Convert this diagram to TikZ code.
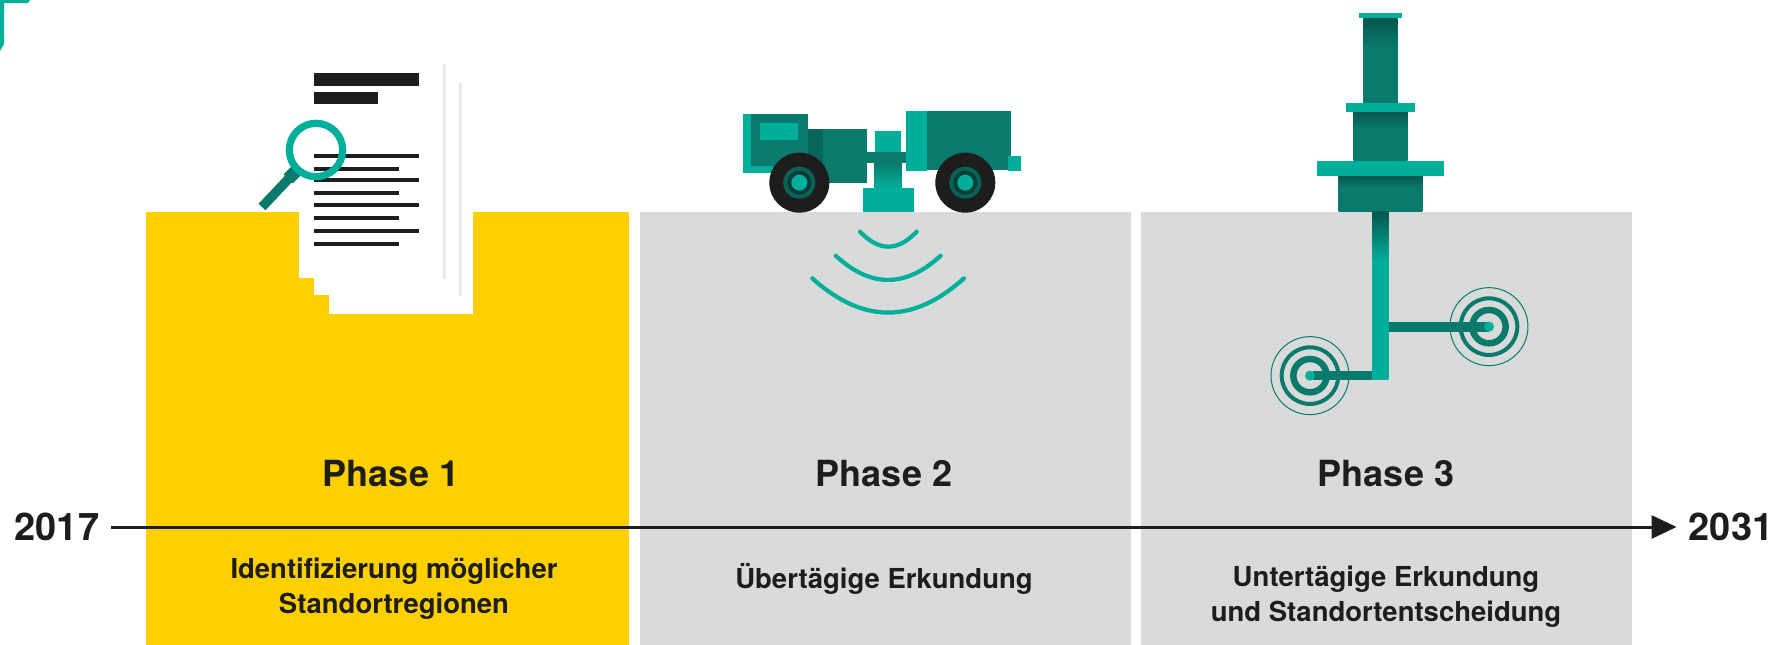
\documentclass[tikz,border=0pt]{standalone}
\usepackage{fontspec}
\usepackage{amsmath,tikz}
\usetikzlibrary{arrows.meta}
\setmainfont{TeX Gyre Heros}

\definecolor{tealL}{HTML}{00AF9B}
\definecolor{tealD}{HTML}{0A7A6C}
\definecolor{tealX}{HTML}{05574D}
\definecolor{panelY}{HTML}{FFD000}
\definecolor{panelG}{HTML}{D9DBDA}
\definecolor{inkK}{HTML}{1D1D1B}
\definecolor{pageS}{HTML}{E4E4E6}

\pgfdeclareverticalshading{pipefade}{100bp}{color(0bp)=(tealL); color(60bp)=(tealL); color(75bp)=(tealX); color(100bp)=(tealX)}
\pgfdeclareverticalshading{shaftfade}{100bp}{color(0bp)=(tealD); color(58bp)=(tealD); color(75bp)=(tealX); color(100bp)=(tealX)}

\tikzset{
  phaselab/.style={font=\fontsize{36pt}{40pt}\selectfont\bfseries,text=inkK,inner sep=0pt},
  tasklab/.style={font=\fontsize{27.5pt}{35pt}\selectfont\bfseries,text=inkK,align=center,inner sep=0pt},
  yearlab/.style={font=\fontsize{38pt}{42pt}\selectfont\bfseries,text=inkK,inner sep=0pt,inner xsep=12pt},
  wave/.style={draw=tealL,line width=4.2pt,line cap=round},
  timeline/.style={draw=inkK,line width=3pt,-{Stealth[length=25pt,width=23pt,inset=0pt]}}
}

\begin{document}
\begin{tikzpicture}[x=1pt,y=-1pt]
\useasboundingbox (0,0) rectangle (1778,645);

% corner mark
\fill[tealL] (0,0) -- (30,0) -- (28,3) -- (4,3) -- (4,44) -- (0,51) -- cycle;

% panels
\fill[panelY] (146,212) rectangle (629,645);
\fill[panelG] (640,212) rectangle (1131,645);
\fill[panelG] (1141,212) rectangle (1632,645);

% sheets of paper
\fill[white] (329,212) rectangle (473,314);
\shade[left color=pageS,right color=white] (459,83) rectangle (463,295);
\fill[white] (314,83) rectangle (459,295);
\shade[left color=pageS,right color=white] (443,64) rectangle (447,278);
\fill[white] (299,64) rectangle (443,278);
\fill[inkK] (314,73) rectangle (419,86);
\fill[inkK] (314,92) rectangle (378,104);
\foreach \y/\e in {156/419,169/399,180/419,193/399,205/419,218/399,231/419,244/399}
{
\fill[inkK] (314,\y-2) rectangle (\e,\y+2);
}

% magnifier
\draw[tealD,line width=9.5pt] (295,172) -- (262,207);
\draw[tealD,line width=13pt] (297,170) -- (288,179);
\draw[tealL,line width=7.2pt] (316,150) circle [radius=26.7];

% truck and waves
\begin{scope}[shift={(720,90)},x=0.3333pt,y=-0.3333pt]
\fill[tealL] (70,72) rectangle (265,248);
\fill[tealD] (92,72) rectangle (265,228);
\fill[tealD] (160,228) rectangle (310,280);
\fill[tealX!60!tealD] (265,118) rectangle (310,280);
\fill[tealD] (310,118) rectangle (440,280);
\fill[tealL] (120,98) rectangle (235,150);
\fill[tealL] (464,122) rectangle (544,186);
\shade[top color=tealD,bottom color=tealL] (464,218) rectangle (544,295);
\fill[tealD] (440,185) rectangle (558,218);
\fill[tealL] (428,293) rectangle (582,366);
\fill[tealD] (620,63) rectangle (872,240);
\fill[tealL] (558,63) rectangle (620,243);
\fill[tealL] (865,197) rectangle (902,242);
\foreach \x in {238,736}
{
\fill[inkK] (\x,278) circle [radius=90];
\fill[tealD!80!black] (\x,278) circle [radius=48];
\fill[tealX!70!black] (\x,278) circle [radius=36];
\fill[tealL] (\x,278) circle [radius=24];
}
\draw[wave] (420,425) .. controls (477,485) and (533,485) .. (590,425);
\draw[wave] (347,497) .. controls (452,594) and (557,594) .. (662,497);
\draw[wave] (277,565) .. controls (429,702) and (580,702) .. (732,565);
\end{scope}

% drill and targets
\begin{scope}[shift={(1250,0)},x=0.3333pt,y=-0.3333pt]
\foreach \a/\b/\c/\d in {340/55/443/310,310/336/473/482,266/527/517/635}
{
\shade[shading=shaftfade] (\a,\b) rectangle (\c,\d);
}
\fill[tealL] (326,38) rectangle (456,55);
\fill[tealL] (287,310) rectangle (495,336);
\fill[tealL] (200,482) rectangle (582,527);
\foreach \x/\y in {180/1127,717/980}
{
\draw[tealD,line width=1pt] (\x,\y) circle [radius=117];
\draw[tealD,line width=4pt] (\x,\y) circle [radius=85];
\draw[tealD,line width=6.5pt] (\x,\y) circle [radius=50];
}
\fill[tealD] (415,965) rectangle (717,995);
\fill[tealD] (190,1112) rectangle (367,1140);
\shade[shading=pipefade] (367,635) rectangle (415,1140);
\foreach \x/\y in {180/1127,717/980}
{
\fill[tealL] (\x,\y) circle [radius=15];
}
\end{scope}

% labels
\node[phaselab] (phaseA) at (391,474) {Phase 1};
\node[phaselab] (phaseB) at (884,474) {Phase 2};
\node[phaselab] (phaseC) at (1386,474) {Phase 3};
\node[tasklab] (taskA) at (394,589) {Identifizierung möglicher\\Standortregionen};
\node[tasklab] (taskB) at (884,579) {Übertägige Erkundung};
\node[tasklab] (taskC) at (1386,597) {Untertägige Erkundung\\und Standortentscheidung};

% time line
\node[yearlab] (yearA) at (57,527) {2017};
\node[yearlab] (yearB) at (1731,527) {2031};
\draw[timeline] (yearA) -- (yearB);

\end{tikzpicture}
\end{document}
